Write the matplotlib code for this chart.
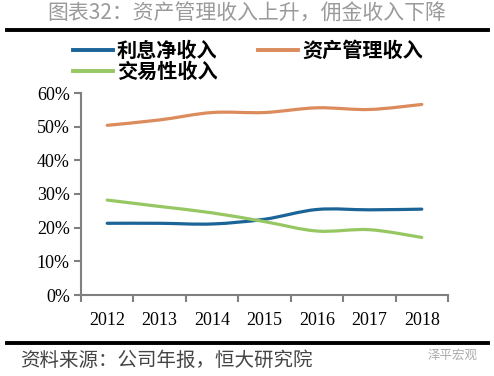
import matplotlib
matplotlib.use("Agg")
import matplotlib.pyplot as plt
import numpy as np
from matplotlib.path import Path
from matplotlib.patches import PathPatch
from matplotlib.lines import Line2D

plt.rcParams['font.family'] = ['Noto Sans CJK SC', 'DejaVu Sans']

years = ['2012', '2013', '2014', '2015', '2016', '2017', '2018']
net_interest = [21.3, 21.3, 21.1, 22.5, 25.4, 25.3, 25.5]
asset_mgmt = [50.4, 52.0, 54.2, 54.2, 55.6, 55.1, 56.6]
trading = [28.2, 26.3, 24.4, 21.8, 19.0, 19.4, 17.1]
series_names = ['利息净收入', '资产管理收入', '交易性收入']
colors = ['#1B6497', '#DB8B5C', '#96C762']
yticks = [0, 10, 20, 30, 40, 50, 60]

fig = plt.figure(figsize=(4.94, 3.76), dpi=100)
ax = fig.add_axes([81/494, 1-295/376, (448-81)/494, (295-93)/376])


def smooth_path(xs, ys, t=1/6):
    xs = np.asarray(xs, float); ys = np.asarray(ys, float)
    n = len(xs)
    verts = [(xs[0], ys[0])]
    codes = [Path.MOVETO]
    for i in range(n-1):
        p0 = (xs[max(i-1, 0)], ys[max(i-1, 0)])
        p1 = (xs[i], ys[i]); p2 = (xs[i+1], ys[i+1])
        p3 = (xs[min(i+2, n-1)], ys[min(i+2, n-1)])
        c1 = (p1[0] + (p2[0]-p0[0])*t, p1[1] + (p2[1]-p0[1])*t)
        c2 = (p2[0] - (p3[0]-p1[0])*t, p2[1] - (p3[1]-p1[1])*t)
        verts += [c1, c2, p2]
        codes += [Path.CURVE4]*3
    return Path(verts, codes)

x = np.arange(len(years))
for vals, c in zip([net_interest, asset_mgmt, trading], colors):
    ax.add_patch(PathPatch(smooth_path(x, vals), facecolor='none', edgecolor=c,
                           lw=2.3, capstyle='round', joinstyle='round'))

ax.set_xlim(-0.5, len(years)-0.5)
ax.set_ylim(0, 60)
ax.set_xticks(x)
ax.set_xticklabels(years, family='Liberation Serif', fontsize=13)
ax.set_xticks(np.arange(len(years)+1)-0.5, minor=True)
ax.tick_params(axis='x', which='major', length=0, pad=12)
ax.tick_params(axis='x', which='minor', length=5, width=1.5, color='#808080', direction='out')
ax.set_yticks(yticks)
ax.set_yticklabels([f'{v}%' for v in yticks], family='Liberation Serif', fontsize=13)
ax.tick_params(axis='y', length=5, width=1.5, color='#808080', direction='out', pad=3)
for s in ['top', 'right']:
    ax.spines[s].set_visible(False)
for s in ['left', 'bottom']:
    ax.spines[s].set_color('#808080')
    ax.spines[s].set_linewidth(1.5)

# title and rules
fig.text(0.5, 1-14/376, '图表32：资产管理收入上升，佣金收入下降', ha='center', va='center',
         fontsize=15, color='#9a9a9a', fontweight='light')
fig.add_artist(Line2D([7/494, 488/494], [1-30/376]*2, color='black', lw=2.8))
fig.add_artist(Line2D([7/494, 488/494], [1-343/376]*2, color='black', lw=2.8))

# legend
leg_pos = [(73, 50), (258, 50), (73, 71)]
for (lx, ly), c, name in zip(leg_pos, colors, series_names):
    fig.add_artist(Line2D([lx/494, (lx+40)/494], [1-ly/376]*2, color=c, lw=2.8))
    fig.text((lx+44)/494, 1-ly/376, name, ha='left', va='center', fontsize=14.5,
             fontweight='bold', color='black')

fig.text(20/494, 1-360/376, '资料来源：公司年报，恒大研究院', ha='left', va='center',
         fontsize=14, color='#444444', fontweight='light')
fig.text(478/494, 1-355/376, '泽平宏观', ha='right', va='center', fontsize=9, color='#aaaaaa')

fig.savefig('out.png', dpi=100)
